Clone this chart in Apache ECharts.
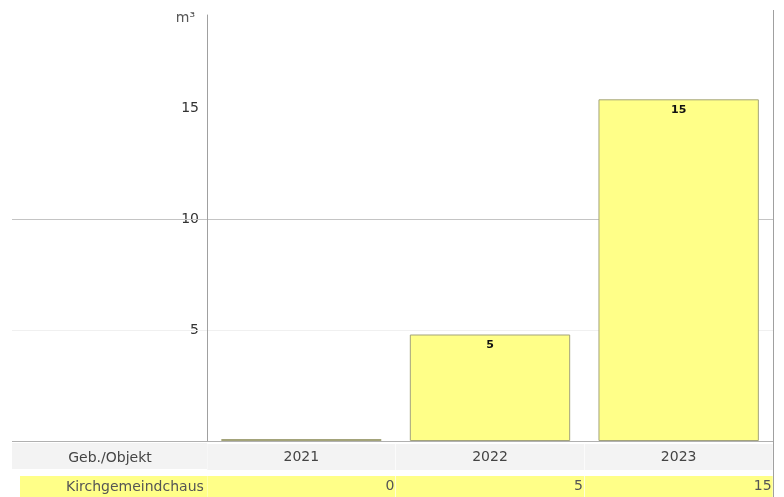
<!DOCTYPE html>
<html>
<head>
<meta charset="utf-8">
<script src="https://cdn.jsdelivr.net/npm/echarts@6/dist/echarts.min.js"></script>
<style>html,body{margin:0;padding:0;background:#fff;}#c{width:784px;height:497px;}</style>
</head>
<body>
<div id="c"></div>
<script>
const years = ['2021', '2022', '2023'];
const values = [0, 4.8, 15.4];
const unitLabel = 'm³';
const rowHeader = 'Geb./Objekt';
const seriesName = 'Kirchgemeindchaus';
const yMax = 19.2;
const yInterval = 5;

const FONT = 'DejaVu Sans';
const chart = echarts.init(document.getElementById('c'), null, {renderer: 'canvas'});

const GL = 207, GR = 11, GT = 15, GB = 56;

chart.setOption({
  animation: false,
  backgroundColor: '#ffffff',
  grid: {left: GL, right: GR, top: GT, bottom: GB},
  xAxis: [
    {
      type: 'category', data: years,
      axisLine: {lineStyle: {color: '#b0b0b0', width: 1}},
      axisTick: {show: false},
      axisLabel: {
        margin: 2, interval: 0, hideOverlap: false,
        formatter: v => '{c|' + v + '}',
        rich: {c: {width: 188, height: 26, lineHeight: 28, align: 'center', backgroundColor: '#f3f3f3',
          color: '#444', fontSize: 14, fontFamily: FONT}}
      }
    },
    {
      type: 'category', data: years, position: 'bottom', offset: 35,
      axisLine: {show: false}, axisTick: {show: false},
      axisLabel: {
        margin: 0, interval: 0, hideOverlap: false,
        formatter: (v, i) => '{c|' + Math.round(values[i]) + '}',
        rich: {c: {width: 187, height: 21, lineHeight: 21, align: 'right', backgroundColor: '#ffff88',
          color: '#555', fontSize: 14, fontFamily: FONT, padding: [0, 1, 0, 0]}}
      }
    }
  ],
  yAxis: {
    type: 'value', min: 0, max: yMax, interval: yInterval,
    axisLine: {show: true, lineStyle: {color: '#a0a0a0'}},
    axisTick: {show: false},
    axisLabel: {
      margin: 8, fontSize: 14, color: '#333', fontFamily: FONT,
      formatter: v => (v >= yMax - 0.01 ? '{u|' + unitLabel + '}' : (v > 0 && v % yInterval === 0 ? String(v) : '')),
      rich: {u: {fontSize: 14, color: '#555', fontFamily: FONT, padding: [6, 4, 0, 0]}}
    },
    splitLine: {show: true, lineStyle: {color: ['rgba(0,0,0,0)', '#f0f0f0', '#c4c4c4', 'rgba(0,0,0,0)', 'rgba(0,0,0,0)']}}
  },
  series: [{
    name: seriesName, type: 'bar', data: values,
    barCategoryGap: '15%', barMinHeight: 2,
    itemStyle: {color: '#ffff88', borderColor: '#a3a37a', borderWidth: 1},
    label: {
      show: true, position: 'insideTop', distance: 5, fontSize: 11, fontWeight: 'bold', color: '#111', fontFamily: FONT,
      formatter: p => (p.value > 0 ? String(Math.round(p.value)) : '')
    }
  }]
});

const y10 = chart.convertToPixel({yAxisIndex: 0}, 10);
const y5 = chart.convertToPixel({yAxisIndex: 0}, 5);
const y0 = chart.convertToPixel({yAxisIndex: 0}, 0);
chart.setOption({
  graphic: [
    {type: 'rect', shape: {x: 12, y: y0 + 2, width: GL - 12, height: 26}, style: {fill: '#f3f3f3'}, z: 1},
    {type: 'rect', shape: {x: 20, y: y0 + 35, width: GL - 20, height: 21}, style: {fill: '#ffff88'}, z: 1},
    {type: 'line', shape: {x1: 12, y1: y0 + 0.5, x2: GL, y2: y0 + 0.5}, style: {stroke: '#b0b0b0', lineWidth: 1}, z: 2},
    {type: 'line', shape: {x1: 12, y1: Math.round(y10) + 0.5, x2: GL, y2: Math.round(y10) + 0.5}, style: {stroke: '#c4c4c4', lineWidth: 1}, z: 2},
    {type: 'line', shape: {x1: 12, y1: Math.round(y5) + 0.5, x2: GL, y2: Math.round(y5) + 0.5}, style: {stroke: '#f0f0f0', lineWidth: 1}, z: 2},
    {type: 'line', shape: {x1: 773.5, y1: 10, x2: 773.5, y2: 497}, style: {stroke: '#a0a0a0', lineWidth: 1}, z: 3},
    {type: 'text', style: {text: rowHeader, x: 110, y: y0 + 17, align: 'center', verticalAlign: 'middle', fill: '#444', font: '14px "DejaVu Sans"'}, z: 3},
    {type: 'text', style: {text: seriesName, x: 66, y: y0 + 46, align: 'left', verticalAlign: 'middle', fill: '#555', font: '14px "DejaVu Sans"'}, z: 3}
  ]
});
</script>
</body>
</html>
